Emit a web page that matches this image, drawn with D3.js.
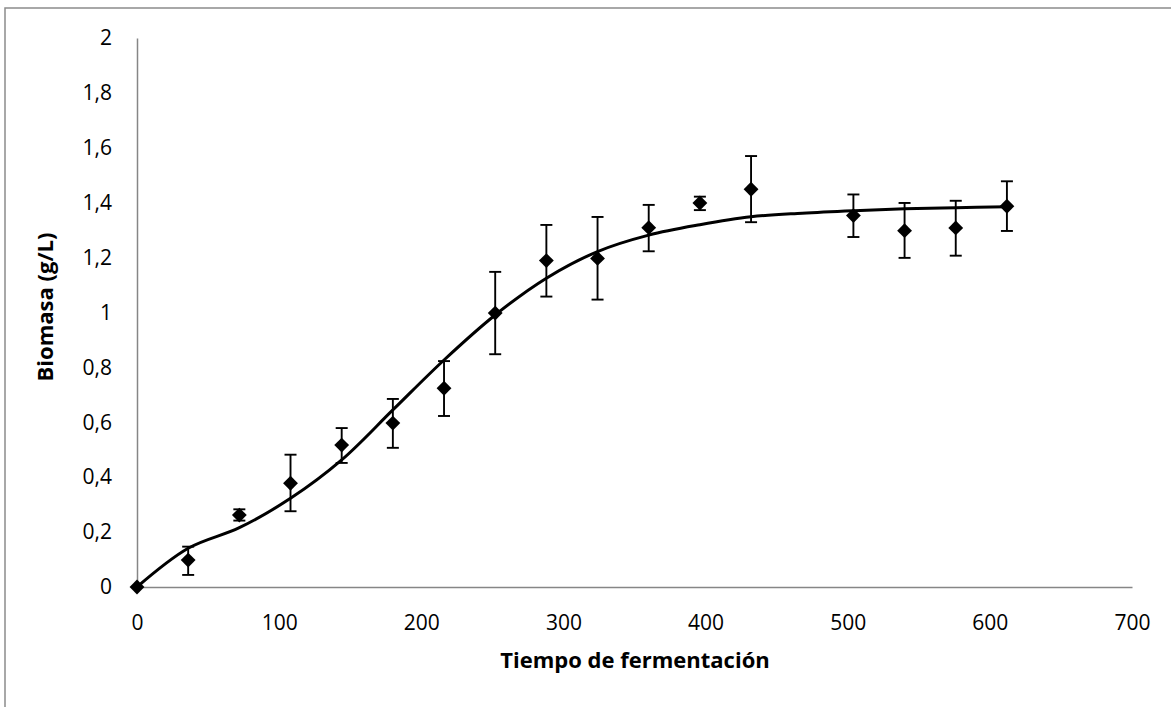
<!DOCTYPE html>
<html>
<head>
<meta charset="utf-8">
<script src="https://cdn.jsdelivr.net/npm/d3@7"></script>
<style>
  body { margin: 0; background: #fff; }
  svg { display: block; font-family: "Open Sans", sans-serif; }
</style>
</head>
<body>
<div id="chart"></div>
<script>
// measured points (time, biomass) with error bar bounds
const times = [0, 36, 72, 108, 144, 180, 216, 252, 288, 324, 360, 396, 432, 504, 540, 576, 612];
const biomass = [0, 0.098, 0.262, 0.378, 0.517, 0.597, 0.724, 0.998, 1.189, 1.197, 1.309, 1.399, 1.449, 1.353, 1.298, 1.308, 1.387];
const upper = [0, 0.147, 0.283, 0.482, 0.579, 0.685, 0.823, 1.148, 1.319, 1.348, 1.392, 1.422, 1.570, 1.430, 1.399, 1.407, 1.478];
const lower = [0, 0.044, 0.242, 0.276, 0.452, 0.507, 0.623, 0.848, 1.058, 1.047, 1.223, 1.373, 1.329, 1.275, 1.199, 1.207, 1.297];

// fitted model curve
const modelT = [0, 36, 72, 108, 144, 180, 216, 252, 288, 324, 360, 396, 432, 468, 504, 540, 576, 612];
const modelY = [0, 0.141, 0.216, 0.323, 0.463, 0.645, 0.827, 0.991, 1.125, 1.222, 1.282, 1.320, 1.349, 1.362, 1.371, 1.378, 1.382, 1.385];

const xTicks = [0, 100, 200, 300, 400, 500, 600, 700];
const yTicks = [0, 0.2, 0.4, 0.6, 0.8, 1, 1.2, 1.4, 1.6, 1.8, 2];

const W = 1171, H = 707;
const axisColor = "#868686";

const svg = d3.select("#chart").append("svg")
  .attr("width", W)
  .attr("height", H);

// chart area border (runs off right/bottom like the original)
svg.append("rect")
  .attr("x", 5).attr("y", 8)
  .attr("width", 1300).attr("height", 900)
  .attr("fill", "none")
  .attr("stroke", "#8c8c8c")
  .attr("stroke-width", 1.5);

const x = d3.scaleLinear().domain([0, 700]).range([137, 1132]);
const y = d3.scaleLinear().domain([0, 2]).range([587, 38]);

const loc = d3.formatLocale({decimal: ",", thousands: ".", grouping: [3], currency: ["", "€"]});
const fmt = loc.format(".1~f");

// axes
const gx = svg.append("g")
  .attr("transform", `translate(0,${y(0)})`)
  .call(d3.axisBottom(x).tickValues(xTicks).tickSize(0).tickPadding(28).tickFormat(d3.format("d")));
const gy = svg.append("g")
  .attr("transform", `translate(${x(0)},0)`)
  .call(d3.axisLeft(y).tickValues(yTicks).tickSize(0).tickPadding(25).tickFormat(fmt));

[gx, gy].forEach(g => {
  g.select(".domain").attr("stroke", axisColor).attr("stroke-width", 1.5);
  g.selectAll("text")
    .attr("fill", "#000")
    .style("font-family", "Open Sans")
    .style("font-size", "21px");
});

// model line
const line = d3.line()
  .x((d, i) => x(modelT[i]))
  .y(d => y(d))
  .curve(d3.curveCatmullRom.alpha(0.5));

svg.append("path")
  .datum(modelY)
  .attr("fill", "none")
  .attr("stroke", "#000")
  .attr("stroke-width", 3)
  .attr("d", line);

// error bars
const pts = times.map((t, i) => ({t: t, v: biomass[i], hi: upper[i], lo: lower[i]}));
const eb = svg.append("g").attr("stroke", "#000").attr("stroke-width", 1.9);
pts.filter(d => d.hi > d.lo).forEach(d => {
  eb.append("line")
    .attr("x1", x(d.t)).attr("x2", x(d.t))
    .attr("y1", y(d.hi)).attr("y2", y(d.lo));
  [d.hi, d.lo].forEach(v => {
    eb.append("line")
      .attr("x1", x(d.t) - 6).attr("x2", x(d.t) + 6)
      .attr("y1", y(v)).attr("y2", y(v));
  });
});

// diamond markers
const sym = d3.symbol().type(d3.symbolDiamond2).size(140);
svg.append("g").selectAll("path")
  .data(pts)
  .join("path")
    .attr("transform", d => `translate(${x(d.t)},${y(d.v)})`)
    .attr("d", sym)
    .attr("fill", "#000");

// axis titles
svg.append("text")
  .attr("x", 635).attr("y", 668)
  .attr("text-anchor", "middle")
  .style("font-size", "22px")
  .style("font-weight", "bold")
  .text("Tiempo de fermentación");

svg.append("text")
  .attr("transform", "translate(53,307) rotate(-90)")
  .attr("text-anchor", "middle")
  .style("font-size", "22px")
  .style("font-weight", "bold")
  .text("Biomasa (g/L)");
</script>
</body>
</html>
